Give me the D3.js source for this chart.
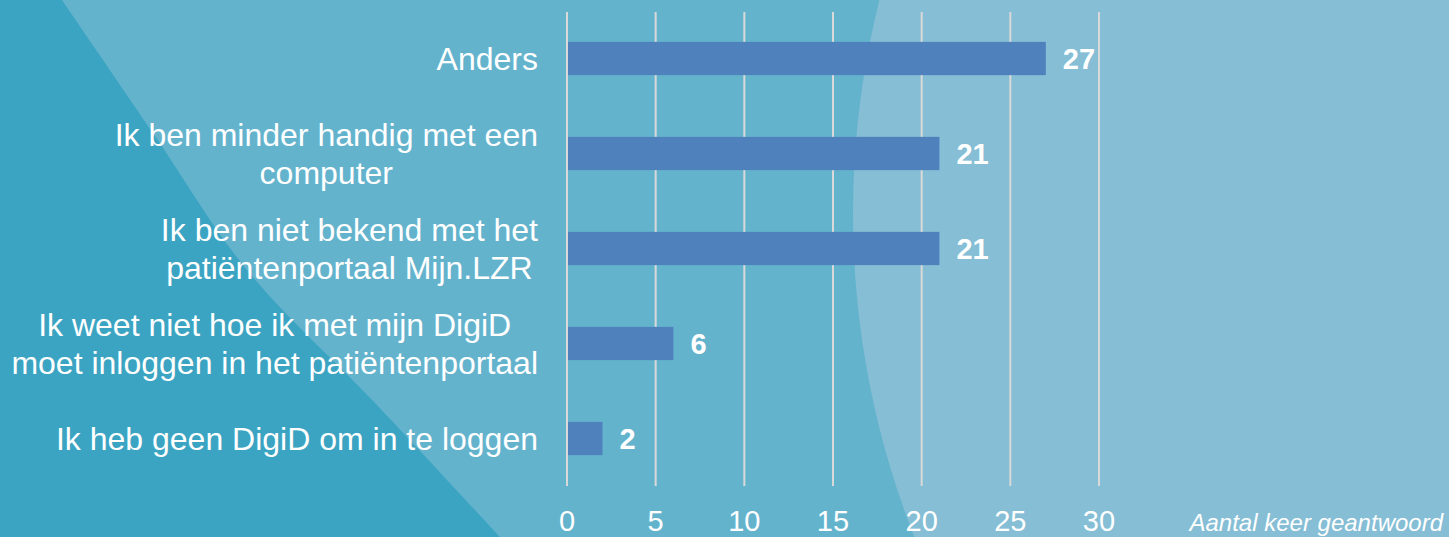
<!DOCTYPE html>
<html>
<head>
<meta charset="utf-8">
<script src="https://cdn.jsdelivr.net/npm/d3@7"></script>
<style>
  html, body { margin: 0; padding: 0; background: #64b3cd; }
  svg { display: block; font-family: "Liberation Sans", Arial, sans-serif; }
</style>
</head>
<body>
<div id="chart"></div>
<script>
(function () {

  // Data
  const categories = [
    ["Anders"],
    ["Ik ben minder handig met een", "computer"],
    ["Ik ben niet bekend met het", "patiëntenportaal Mijn.LZR"],
    ["Ik weet niet hoe ik met mijn DigiD", "moet inloggen in het patiëntenportaal"],
    ["Ik heb geen DigiD om in te loggen"]
  ]
  const values = [27, 21, 21, 6, 2]
  const ticks = [0, 5, 10, 15, 20, 25, 30]
  const axisTitle = "Aantal keer geantwoord"

  const W = 1449, H = 537
  const margin = { top: 11, right: 350, bottom: 51, left: 567 }

  const svg = d3.select("#chart").append("svg")
      .attr("width", W)
      .attr("height", H)

  // Background shapes
  svg.append("rect").attr("width", W).attr("height", H).attr("fill", "#64b3cd")

  svg.append("circle")
      .attr("cx", 1733).attr("cy", 214).attr("r", 880)
      .attr("fill", "#85bed5")

  const edge = [[62, 0], [153, 133], [247, 270], [375, 403], [500, 537]]
  const edgeLine = d3.line().curve(d3.curveCatmullRom)
  svg.append("path")
      .attr("d", edgeLine(edge) + "L0,537L0,0Z")
      .attr("fill", "#3ba4c2")

  // Scales
  const x = d3.scaleLinear()
    .domain([0, 30])
    .range([margin.left, margin.left + 532])

  const y = d3.scaleBand()
    .domain(d3.range(categories.length))
    .range([margin.top, H - margin.bottom])
    .paddingInner(0.65)
    .paddingOuter(0.325)

  // Gridlines
  svg.append("g")
    .selectAll("line")
    .data(ticks)
    .join("line")
      .attr("x1", d => x(d)).attr("x2", d => x(d))
      .attr("y1", 12).attr("y2", 486)
      .attr("stroke", "#d9d9d9")
      .attr("stroke-width", 2)

  // Bars
  svg.append("g")
    .selectAll("rect")
    .data(values)
    .join("rect")
      .attr("x", x(0) + 1)
      .attr("y", (d, i) => y(i))
      .attr("width", d => x(d) - x(0) - 1)
      .attr("height", y.bandwidth())
      .attr("fill", "#4f81bd")

  // Value labels
  svg.append("g")
    .selectAll("text")
    .data(values)
    .join("text")
      .attr("x", d => x(d) + 17)
      .attr("y", (d, i) => y(i) + y.bandwidth() / 2)
      .attr("dy", "0.36em")
      .attr("fill", "#fff")
      .attr("font-size", 29)
      .attr("font-weight", "bold")
      .text(d => d)

  // Tick labels
  svg.append("g")
    .selectAll("text")
    .data(ticks)
    .join("text")
      .attr("x", d => x(d))
      .attr("y", 531)
      .attr("text-anchor", "middle")
      .attr("fill", "#fff")
      .attr("font-size", 29)
      .text(d => d)

  // Axis title
  svg.append("text")
      .attr("x", 1443)
      .attr("y", 531)
      .attr("text-anchor", "end")
      .attr("fill", "#fff")
      .attr("font-size", 24)
      .attr("font-style", "italic")
      .text(axisTitle)

  // Category labels, centred block with right edge at 538
  const lineH = 38
  const labels = svg.append("g")
    .selectAll("text")
    .data(categories)
    .join("text")
      .attr("fill", "#fff")
      .attr("font-size", 32)
      .attr("text-anchor", "middle")

  labels.each(function (lines, i) {
    const t = d3.select(this)
    const cy = y(i) + y.bandwidth() / 2
    const spans = t.selectAll("tspan")
      .data(lines)
      .join("tspan")
        .attr("y", (d, j) => cy + (j - (lines.length - 1) / 2) * lineH)
        .attr("dy", "0.36em")
        .text(d => d)
    let maxW = 0
    spans.each(function () { maxW = Math.max(maxW, this.getComputedTextLength()) })
    spans.attr("x", 538 - maxW / 2)
  })

})();
</script>
</body>
</html>
